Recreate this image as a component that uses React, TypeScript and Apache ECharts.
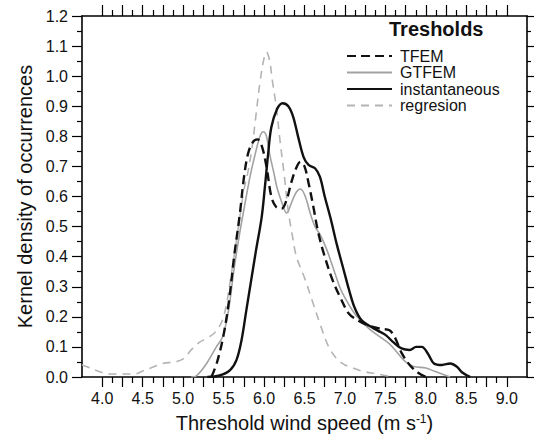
import React, { useEffect, useRef } from 'react';
import * as echarts from 'echarts';

const FONT = '"Liberation Sans", Arial, Helvetica, sans-serif';

const seriesNames = ['TFEM', 'GTFEM', 'instantaneous', 'regresion'];

const xLabelValues = [4.0, 4.5, 5.0, 5.5, 6.0, 6.5, 7.0, 7.5, 8.0, 8.5, 9.0];
const yLabelValues = [0.0, 0.1, 0.2, 0.3, 0.4, 0.5, 0.6, 0.7, 0.8, 0.9, 1.0, 1.1, 1.2];

const tfem: [number, number][] = [
  [5.35, 0], [5.42, 0.05], [5.5, 0.14], [5.57, 0.26], [5.63, 0.4], [5.7, 0.54],
  [5.75, 0.66], [5.8, 0.74], [5.86, 0.78], [5.92, 0.79], [5.97, 0.77], [6.03, 0.7],
  [6.09, 0.6], [6.15, 0.565], [6.22, 0.56], [6.28, 0.59], [6.33, 0.64], [6.39, 0.69],
  [6.45, 0.715], [6.5, 0.7], [6.55, 0.645], [6.61, 0.565], [6.67, 0.48], [6.75, 0.4],
  [6.85, 0.32], [6.95, 0.26], [7.05, 0.21], [7.15, 0.19], [7.3, 0.17], [7.45, 0.16],
  [7.55, 0.155], [7.62, 0.13], [7.7, 0.08], [7.8, 0.04], [7.9, 0.015], [8.0, 0],
];

const gtfem: [number, number][] = [
  [5.1, 0], [5.17, 0.005], [5.29, 0.045], [5.41, 0.1], [5.49, 0.135], [5.56, 0.22],
  [5.63, 0.36], [5.7, 0.48], [5.76, 0.57], [5.83, 0.67], [5.89, 0.74], [5.95, 0.8],
  [5.99, 0.815], [6.03, 0.8], [6.07, 0.74], [6.12, 0.68], [6.16, 0.63], [6.22, 0.58],
  [6.28, 0.545], [6.34, 0.58], [6.4, 0.615], [6.45, 0.625], [6.51, 0.6], [6.57, 0.545],
  [6.63, 0.5], [6.7, 0.47], [6.78, 0.42], [6.87, 0.35], [6.95, 0.29], [7.05, 0.24],
  [7.15, 0.2], [7.3, 0.16], [7.45, 0.13], [7.55, 0.11], [7.65, 0.08], [7.75, 0.05],
  [7.85, 0.035], [8.0, 0.03], [8.1, 0.02], [8.2, 0.01], [8.3, 0],
];

const instantaneous: [number, number][] = [
  [5.3, 0], [5.45, 0.005], [5.58, 0.023], [5.66, 0.057], [5.72, 0.12], [5.78, 0.22],
  [5.84, 0.32], [5.9, 0.42], [5.97, 0.53], [6.01, 0.63], [6.05, 0.74], [6.09, 0.83],
  [6.16, 0.89], [6.23, 0.91], [6.3, 0.9], [6.36, 0.865], [6.42, 0.8], [6.49, 0.73],
  [6.55, 0.705], [6.63, 0.694], [6.69, 0.666], [6.75, 0.6], [6.82, 0.53], [6.9, 0.44],
  [6.98, 0.36], [7.05, 0.29], [7.12, 0.23], [7.2, 0.19], [7.3, 0.17], [7.4, 0.155],
  [7.5, 0.14], [7.6, 0.115], [7.7, 0.095], [7.8, 0.09], [7.88, 0.1], [7.95, 0.1],
  [8.02, 0.08], [8.1, 0.045], [8.2, 0.04], [8.3, 0.045], [8.38, 0.035], [8.45, 0.015],
  [8.55, 0],
];

const regression: [number, number][] = [
  [3.75, 0.04], [3.85, 0.03], [4.0, 0.015], [4.1, 0.01], [4.25, 0.01], [4.4, 0.01],
  [4.5, 0.02], [4.6, 0.03], [4.75, 0.045], [4.9, 0.05], [5.0, 0.06], [5.1, 0.09],
  [5.2, 0.115], [5.3, 0.13], [5.4, 0.15], [5.5, 0.2], [5.6, 0.35], [5.7, 0.53],
  [5.75, 0.62], [5.8, 0.68], [5.85, 0.76], [5.9, 0.87], [5.95, 0.98], [6.0, 1.06],
  [6.03, 1.08], [6.07, 1.05], [6.1, 0.99], [6.15, 0.9], [6.2, 0.78], [6.25, 0.67],
  [6.3, 0.55], [6.35, 0.47], [6.4, 0.4], [6.5, 0.33], [6.6, 0.25], [6.7, 0.17],
  [6.8, 0.1], [6.9, 0.06], [7.0, 0.04], [7.1, 0.03], [7.2, 0.02], [7.4, 0.01],
  [7.6, 0.0],
];

const X_MIN = 3.75;
const X_MAX = 9.25;
const Y_MIN = 0;
const Y_MAX = 1.2;

// tick positions: every 0.125 from 4.0 to 9.0; long ones on the 0.25 grid
const xMajorTicks: number[] = [];
const xMinorTicks: number[] = [];
for (let i = 0; i <= 40; i++) {
  const v = 4 + i * 0.125;
  if (i % 2 === 0) xMajorTicks.push(v);
  else xMinorTicks.push(v);
}

function xAxisBase(position: 'top' | 'bottom', ticks: number[], len: number, showLine: boolean) {
  return {
    type: 'value',
    min: X_MIN,
    max: X_MAX,
    position,
    axisLine: { show: showLine, onZero: false, lineStyle: { color: '#000', width: 1.6 } },
    axisTick: { show: true, inside: false, length: len, customValues: ticks, lineStyle: { color: '#000', width: 1.2 } },
    axisLabel: { show: false },
    splitLine: { show: false },
  };
}

export default function App() {
  const ref = useRef<HTMLDivElement>(null);

  useEffect(() => {
    document.body.style.margin = '0';
    const chart = echarts.init(ref.current!, null, { renderer: 'svg' });

    const mainX: any = xAxisBase('bottom', xMajorTicks, 10, true);
    mainX.axisLabel = {
      show: true,
      customValues: xLabelValues,
      formatter: (v: number) => v.toFixed(1),
      fontSize: 16,
      color: '#111',
      fontFamily: FONT,
      margin: 13,
    };
    mainX.name = 'Threshold wind speed (m s{sup|-1})';
    mainX.nameLocation = 'middle';
    mainX.nameGap = 36;
    mainX.nameTextStyle = {
      fontSize: 20,
      color: '#111',
      fontFamily: FONT,
      rich: {
        sup: { fontSize: 12, color: '#111', fontFamily: FONT, verticalAlign: 'top', lineHeight: 12, padding: [0, 0, 10, 0] },
      },
    };

    const option: any = {
      animation: false,
      backgroundColor: '#fff',
      grid: { left: 82, right: 11, top: 16, bottom: 64, containLabel: false },
      xAxis: [
        mainX,
        xAxisBase('bottom', xMinorTicks, 6, false),
        xAxisBase('top', xMajorTicks, 11, true),
        xAxisBase('top', xMinorTicks, 6, false),
      ],
      yAxis: [
        {
          type: 'value',
          min: Y_MIN,
          max: Y_MAX,
          interval: 0.1,
          position: 'left',
          axisLine: { show: true, onZero: false, lineStyle: { color: '#000', width: 1.6 } },
          axisTick: { show: true, inside: false, length: 10, lineStyle: { color: '#000', width: 1.2 } },
          minorTick: { show: true, splitNumber: 2, length: 5, lineStyle: { color: '#000', width: 1.2 } },
          axisLabel: {
            show: true,
            customValues: yLabelValues,
            formatter: (v: number) => v.toFixed(1),
            fontSize: 16,
            color: '#111',
            fontFamily: FONT,
            margin: 14,
          },
          splitLine: { show: false },
          minorSplitLine: { show: false },
          name: 'Kernel density of occurrences',
          nameLocation: 'middle',
          nameGap: 46,
          nameTextStyle: { fontSize: 20, color: '#111', fontFamily: FONT },
        },
        {
          type: 'value',
          min: Y_MIN,
          max: Y_MAX,
          interval: 0.1,
          position: 'right',
          axisLine: { show: true, onZero: false, lineStyle: { color: '#000', width: 1.6 } },
          axisTick: { show: true, inside: false, length: 7, lineStyle: { color: '#000', width: 1.2 } },
          minorTick: { show: true, splitNumber: 2, length: 4, lineStyle: { color: '#000', width: 1.2 } },
          axisLabel: { show: false },
          splitLine: { show: false },
          minorSplitLine: { show: false },
        },
      ],
      legend: {
        data: seriesNames,
        orient: 'vertical',
        left: 346,
        top: 48,
        itemWidth: 45,
        itemHeight: 16,
        itemGap: 0.5,
        padding: 0,
        itemStyle: { opacity: 0 },
        textStyle: { fontSize: 16, lineHeight: 16, color: '#111', fontFamily: FONT, padding: [0, 0, 0, 3] },
      },
      graphic: [
        {
          type: 'text',
          left: 389,
          top: 19,
          style: { text: 'Tresholds', font: `bold 20px ${FONT}`, fill: '#111' },
        },
      ],
      series: [
        {
          name: 'regresion',
          type: 'line',
          data: regression,
          showSymbol: false,
          symbol: 'none',
          smooth: 0.35,
          color: '#b4b4b4',
          lineStyle: { color: '#b4b4b4', width: 1.6, type: [8, 6] },
          z: 2,
        },
        {
          name: 'GTFEM',
          type: 'line',
          data: gtfem,
          showSymbol: false,
          symbol: 'none',
          smooth: 0.35,
          color: '#a2a2a2',
          lineStyle: { color: '#a2a2a2', width: 1.6 },
          z: 3,
        },
        {
          name: 'TFEM',
          type: 'line',
          data: tfem,
          showSymbol: false,
          symbol: 'none',
          smooth: 0.35,
          color: '#111',
          lineStyle: { color: '#111', width: 2.4, type: [9, 5] },
          z: 4,
        },
        {
          name: 'instantaneous',
          type: 'line',
          data: instantaneous,
          showSymbol: false,
          symbol: 'none',
          smooth: 0.35,
          color: '#111',
          lineStyle: { color: '#111', width: 2.4 },
          z: 5,
        },
      ],
    };

    chart.setOption(option);
    return () => chart.dispose();
  }, []);

  return (
    <div
      ref={ref}
      style={{ width: 538, height: 441, position: 'absolute', left: 0, top: 0, background: '#fff' }}
    />
  );
}
